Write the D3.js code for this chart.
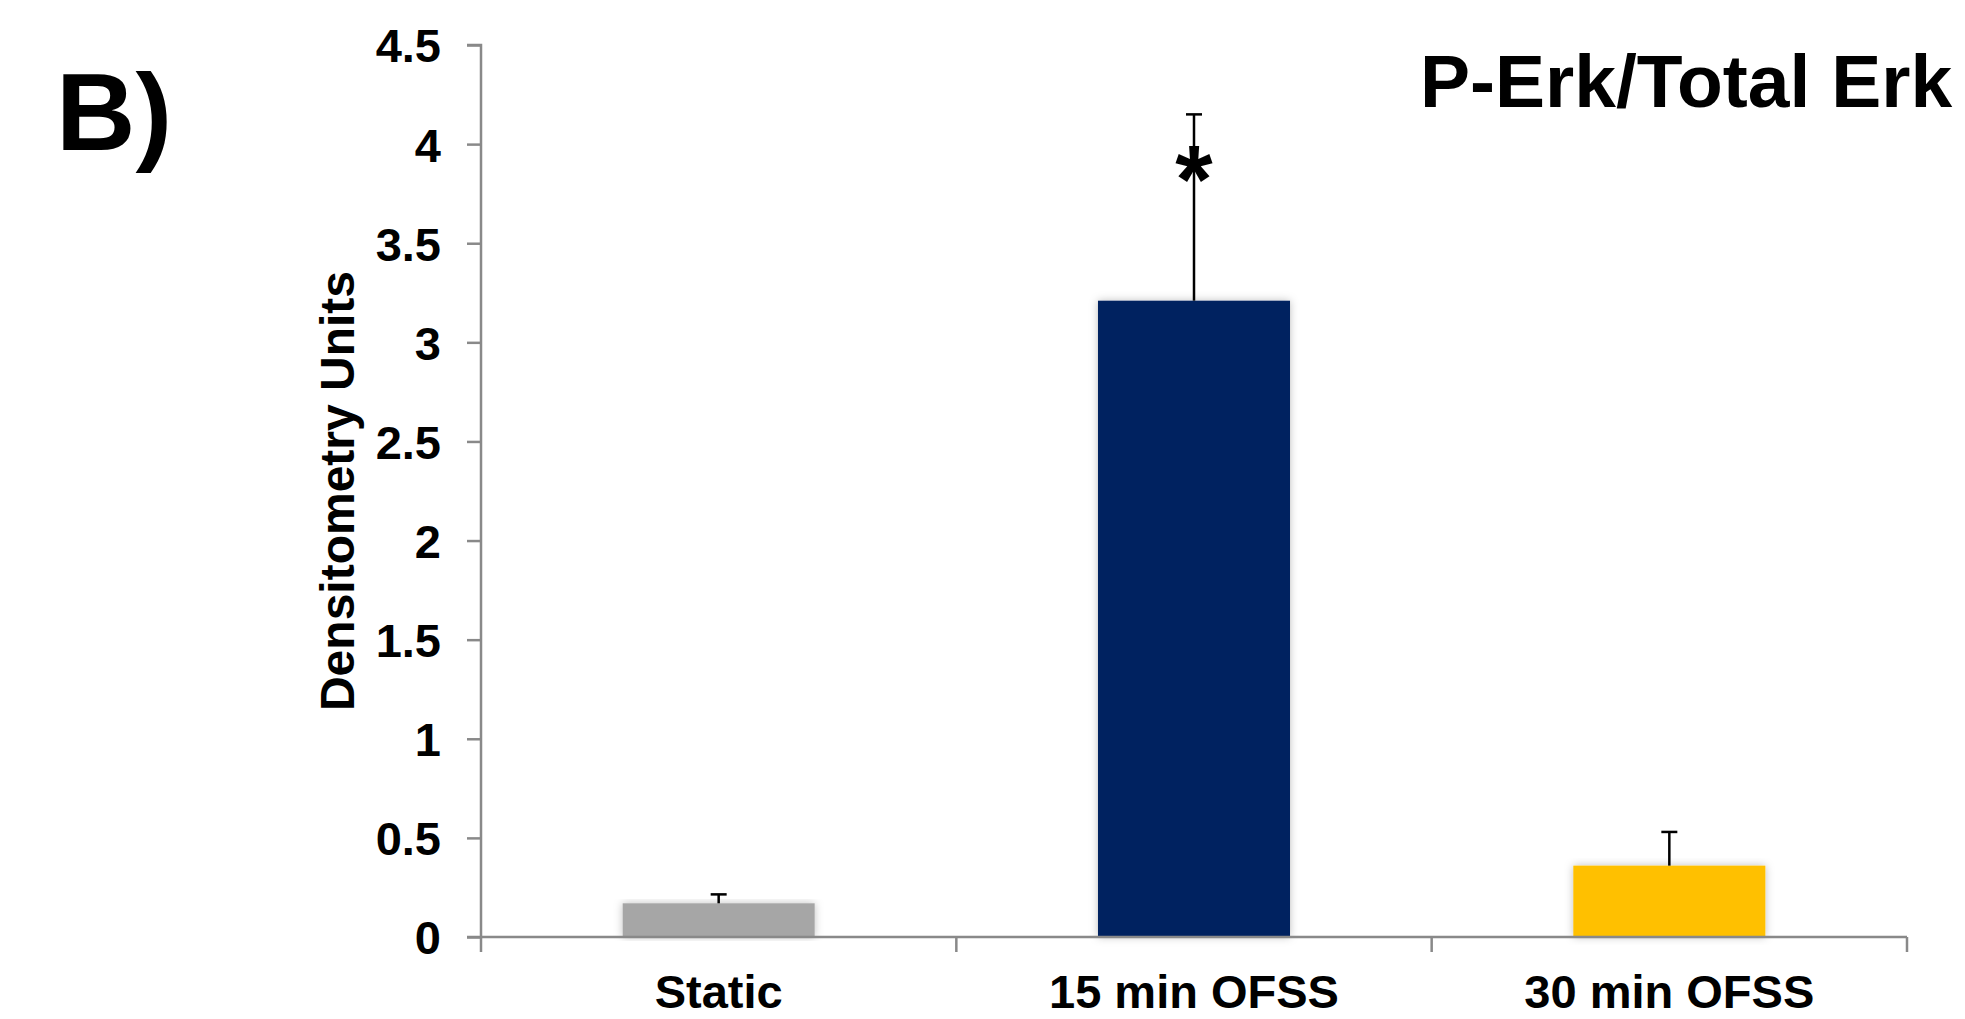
<!DOCTYPE html>
<html lang="en">
<head>
<meta charset="utf-8">
<title>P-Erk/Total Erk</title>
<script src="https://d3js.org/d3.v7.min.js"></script>
<style>
  body { margin: 0; background: #fff; }
  text { font-family: "Liberation Sans", Arial, sans-serif; font-weight: bold; fill: #000; }
</style>
</head>
<body>
<script>
// data
var categories = ["Static", "15 min OFSS", "30 min OFSS"];
var values = [0.17, 3.21, 0.36];
var errors = [0.045, 0.94, 0.17];
var barColors = ["#A6A6A6", "#002060", "#FFC000"];
var yTicks = [0, 0.5, 1, 1.5, 2, 2.5, 3, 3.5, 4, 4.5];
var significant = [false, true, false];

var w = 1965, h = 1019;
var svg = d3.select("body").append("svg")
  .attr("width", w)
  .attr("height", h);

// soft shadow like the office chart
var defs = svg.append("defs");
var f = defs.append("filter").attr("id", "shadow")
  .attr("x", "-10%").attr("y", "-10%").attr("width", "120%").attr("height", "120%");
f.append("feDropShadow").attr("dx", 0).attr("dy", 0).attr("stdDeviation", 4)
  .attr("flood-color", "#000").attr("flood-opacity", 0.25);

var x = d3.scaleBand()
  .domain(categories)
  .range([481, 1907])
  .paddingInner(0.596)
  .paddingOuter(0.298);

var y = d3.scaleLinear()
  .domain([0, 4.5])
  .range([937, 45]);

var axisColor = "#898989";

// bars
svg.selectAll("rect.bar")
  .data(values)
  .enter().append("rect")
  .attr("class", "bar")
  .attr("x", function(d, i) { return x(categories[i]); })
  .attr("y", function(d) { return y(d); })
  .attr("width", x.bandwidth())
  .attr("height", function(d) { return y(0) - y(d); })
  .attr("fill", function(d, i) { return barColors[i]; })
  .attr("filter", "url(#shadow)");

// error bars (plus only)
var eb = svg.selectAll("g.err")
  .data(values)
  .enter().append("g")
  .attr("class", "err");
eb.append("line")
  .attr("x1", function(d, i) { return x(categories[i]) + x.bandwidth() / 2; })
  .attr("x2", function(d, i) { return x(categories[i]) + x.bandwidth() / 2; })
  .attr("y1", function(d) { return y(d); })
  .attr("y2", function(d, i) { return y(d + errors[i]); })
  .attr("stroke", "#000").attr("stroke-width", 2.5);
eb.append("line")
  .attr("x1", function(d, i) { return x(categories[i]) + x.bandwidth() / 2 - 8; })
  .attr("x2", function(d, i) { return x(categories[i]) + x.bandwidth() / 2 + 8; })
  .attr("y1", function(d, i) { return y(d + errors[i]); })
  .attr("y2", function(d, i) { return y(d + errors[i]); })
  .attr("stroke", "#000").attr("stroke-width", 2.5);

// significance star
svg.selectAll("text.star")
  .data(categories.filter(function(c, i) { return significant[i]; }))
  .enter().append("text")
  .attr("class", "star")
  .attr("x", function(d) { return x(d) + x.bandwidth() / 2; })
  .attr("y", function(d) { return y(4.0) + 68; })
  .attr("text-anchor", "middle")
  .attr("font-size", "96px")
  .text("*");

// y axis
var yAxis = d3.axisLeft(y)
  .tickValues(yTicks)
  .tickFormat(d3.format("~g"))
  .tickSize(14)
  .tickPadding(26);
var gy = svg.append("g")
  .attr("transform", "translate(481,0)")
  .call(yAxis);
gy.select(".domain").attr("stroke", axisColor).attr("stroke-width", 2.5)
  .attr("d", "M-14," + y(4.5) + "H0V" + y(0) + "H-14");
gy.selectAll(".tick line").attr("stroke", axisColor).attr("stroke-width", 2.5);
gy.selectAll(".tick text")
  .attr("font-size", "47px")
  .attr("font-family", "'Liberation Sans', Arial, sans-serif")
  .attr("font-weight", "bold")
  .attr("fill", "#000")
  .attr("dy", "0.36em");

// x axis: line, boundary ticks, labels
var gx = svg.append("g")
  .attr("transform", "translate(0," + y(0) + ")");
gx.append("line")
  .attr("x1", 481).attr("x2", 1907)
  .attr("stroke", axisColor).attr("stroke-width", 2.5);
var edges = d3.range(categories.length + 1).map(function(i) { return 481 + i * x.step(); });
gx.selectAll("line.edge")
  .data(edges)
  .enter().append("line")
  .attr("class", "edge")
  .attr("x1", function(d) { return d; })
  .attr("x2", function(d) { return d; })
  .attr("y1", 0).attr("y2", 15)
  .attr("stroke", axisColor).attr("stroke-width", 2.5);
gx.selectAll("text.cat")
  .data(categories)
  .enter().append("text")
  .attr("class", "cat")
  .attr("x", function(d) { return x(d) + x.bandwidth() / 2; })
  .attr("y", 71)
  .attr("text-anchor", "middle")
  .attr("font-size", "47px")
  .text(function(d) { return d; });

// y axis title
svg.append("text")
  .attr("transform", "translate(354,491) rotate(-90)")
  .attr("text-anchor", "middle")
  .attr("font-size", "48px")
  .text("Densitometry Units");

// chart title and panel letter
svg.append("text")
  .attr("x", 1420)
  .attr("y", 107)
  .attr("font-size", "75px")
  .text("P-Erk/Total Erk");

svg.append("text")
  .attr("x", 56)
  .attr("y", 150)
  .attr("font-size", "110px")
  .text("B)");
</script>
</body>
</html>
